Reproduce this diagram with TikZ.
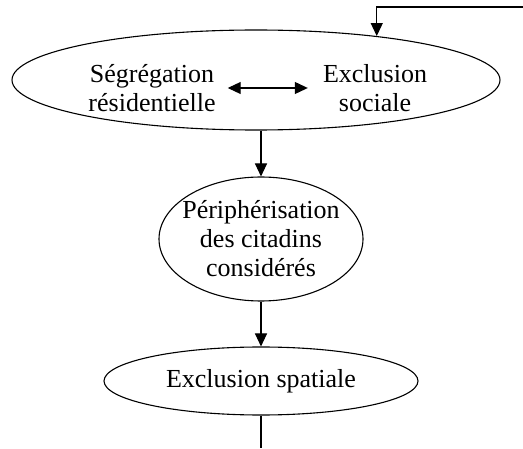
\documentclass[tikz,border=0pt]{standalone}
\usepackage{fontspec}
\setmainfont{Liberation Serif}
\usetikzlibrary{arrows.meta,shapes.geometric}
\begin{document}
\begin{tikzpicture}[x=1pt,y=1pt,
    bulle/.style={draw,ellipse,line width=1.1pt,inner sep=0pt},
    texte/.style={align=center,inner sep=3pt,font=\fontsize{26}{29}\selectfont},
    fleche/.style={-{Triangle[length=13pt,width=12pt]},line width=1.1pt}]
    \useasboundingbox (0,0) rectangle (523,448);
    % les trois bulles
    \node[bulle,minimum width=488pt,minimum height=100pt] (e1) at (256,368) {};
    \node[bulle,minimum width=204pt,minimum height=124pt] (e2) at (261,209) {};
    \node[bulle,minimum width=314pt,minimum height=68pt] (e3) at (261,67) {};
    % les textes
    \node[texte] (seg) at (152,360) {Ségrégation\\résidentielle};
    \node[texte] (excl) at (375,360) {Exclusion\\sociale};
    \node[texte] (peri) at (e2) {Périphérisation\\des citadins\\considérés};
    \node[texte] (spat) at (e3) {Exclusion spatiale};
    \coordinate (retour) at (523,441);
    \coordinate (sortie) at (261,0);
    % les liens
    \draw[fleche] (retour) -| (e1.20);
    \draw[{Triangle[length=13pt,width=12pt]}-{Triangle[length=13pt,width=12pt]},line width=1.1pt,
        shorten <=9pt,shorten >=12pt] (seg.east) -- (excl.west);
    \draw[fleche] (e1.south -| e2.north) -- (e2.north);
    \draw[fleche] (e2) -- (e3);
    \draw[line width=1.1pt] (e3) -- (sortie);
\end{tikzpicture}
\end{document}
